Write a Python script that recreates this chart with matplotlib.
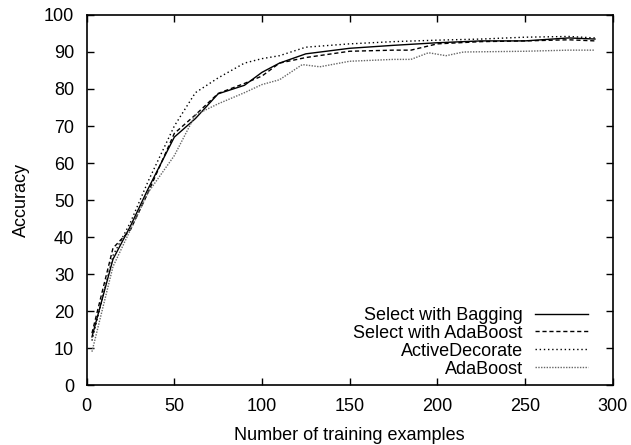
import matplotlib
matplotlib.use('Agg')
from matplotlib import pyplot as plt

plt.rcParams['font.family'] = ['Liberation Sans', 'DejaVu Sans']

# data
bag_x = [3, 15, 25, 35, 50, 62, 75, 90, 100, 110, 125, 150, 175, 200, 225, 250, 275, 290]
bag_y = [13, 34, 43, 53, 67, 72, 78.7, 81, 84.5, 87, 89.5, 91, 91.8, 92.5, 93, 93, 93.8, 93.5]

ada_sel_x = [3, 15, 25, 35, 50, 62, 75, 90, 100, 110, 125, 150, 175, 185, 200, 225, 250, 275, 290]
ada_sel_y = [14, 37, 42, 52, 68, 73, 78.8, 81.5, 83.5, 87, 88.5, 90.2, 90.5, 90.5, 92.2, 92.8, 93, 93.3, 93]

dec_x = [3, 15, 25, 35, 50, 62, 75, 90, 100, 110, 125, 150, 175, 200, 225, 250, 275, 290]
dec_y = [12, 35, 44, 55, 70, 79, 83, 87, 88.2, 89, 91.3, 92.2, 92.8, 93.2, 93.5, 94, 94.2, 93.8]

ada_x = [3, 15, 25, 35, 50, 62, 75, 90, 100, 110, 123, 133, 150, 175, 185, 195, 205, 215, 250, 275, 290]
ada_y = [9, 32, 42, 52, 62, 73, 76, 79, 81.2, 82.5, 86.6, 86, 87.5, 88, 88, 89.8, 89, 90, 90.2, 90.5, 90.5]

fig = plt.figure(figsize=(6.31, 4.45), dpi=100)
ax = fig.add_axes([0.1374, 0.1348, 0.8333, 0.8315])

ax.plot(bag_x, bag_y, color='black', lw=1.0, ls='-', label='Select with Bagging')
ax.plot(ada_sel_x, ada_sel_y, color='black', lw=1.0, ls=(0, (3, 2)), label='Select with AdaBoost')
ax.plot(dec_x, dec_y, color='black', lw=1.0, ls=(0, (1, 2)), label='ActiveDecorate')
ax.plot(ada_x, ada_y, color='#666666', lw=1.0, ls=(0, (1, 1)), label='AdaBoost')

ax.set_xlim(0, 300)
ax.set_ylim(0, 100)
ax.set_xticks(range(0, 301, 50))
ax.set_yticks(range(0, 101, 10))
ax.tick_params(direction='in', top=True, right=True, labelsize=13, length=5, width=1, pad=9)
for s in ax.spines.values():
    s.set_linewidth(1.2)

ax.set_xlabel('Number of training examples', fontsize=13, labelpad=9)
ax.set_ylabel('Accuracy', fontsize=13, labelpad=10)

leg = ax.legend(loc='lower right', frameon=False, markerfirst=False, fontsize=13,
                handlelength=2.9, labelspacing=0.05, handletextpad=0.7,
                borderpad=0, borderaxespad=0, bbox_to_anchor=(0.953, 0.02))
for t in leg.get_texts():
    t.set_ha('right')

fig.savefig('out.png', dpi=100)
